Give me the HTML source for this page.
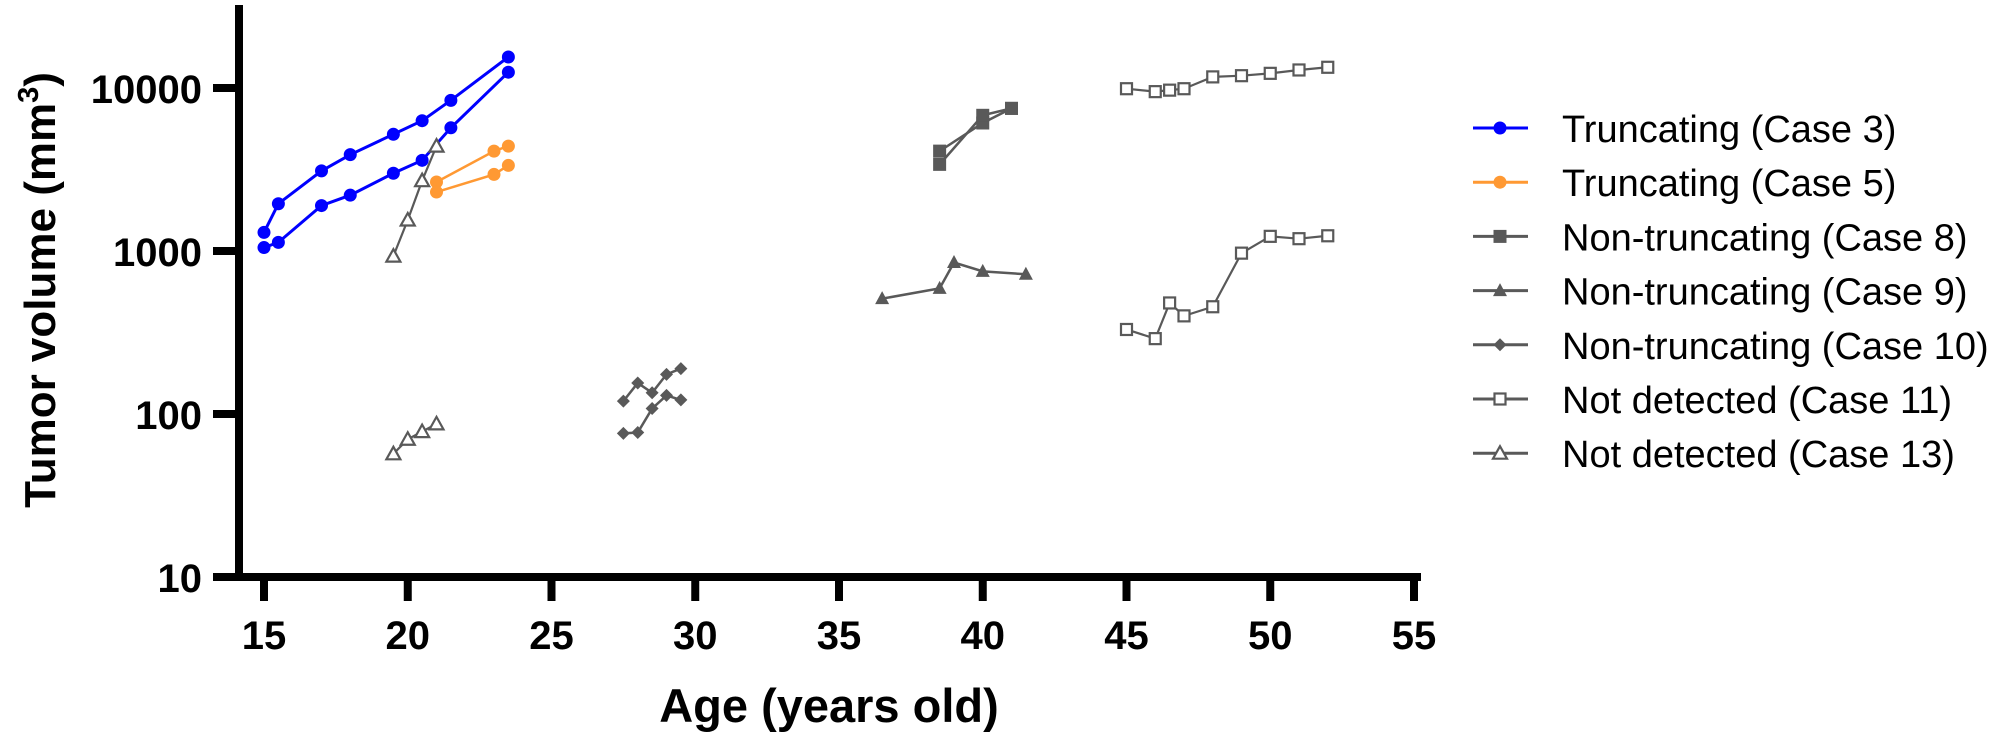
<!DOCTYPE html>
<html><head><meta charset="utf-8"><style>
html,body{margin:0;padding:0;background:#fff;}
svg{display:block;font-family:"Liberation Sans",Arial,sans-serif;}
</style></head><body>
<svg id="s" width="2003" height="738" viewBox="0 0 2003 738" xmlns="http://www.w3.org/2000/svg">
<g id="axes" stroke="#000" stroke-width="8" fill="none">
<line x1="239" y1="5" x2="239" y2="581"/>
<line x1="235" y1="577" x2="1421" y2="577"/>
</g>
<g id="ticks" stroke="#000" stroke-width="8"></g>
<g id="labels" font-weight="bold" font-size="40" fill="#000"></g>
<g id="data"></g>
<g id="legend" font-size="38" fill="#000"></g>
<text x="829" y="722" text-anchor="middle" font-weight="bold" font-size="47">Age (years old)</text>
<text transform="translate(55,290) rotate(-90)" text-anchor="middle" font-weight="bold" font-size="44">Tumor volume (mm<tspan dy="-17" font-size="29">3</tspan><tspan dy="17">)</tspan></text>
</svg>
<script>
var NS="http://www.w3.org/2000/svg";
function X(a){return 264+(a-15)*28.75;}
function Y(v){return 577-(Math.log10(v)-1)*163;}
function el(t,at,p){var e=document.createElementNS(NS,t);for(var k in at)e.setAttribute(k,at[k]);p.appendChild(e);return e;}
var T=document.getElementById('ticks'),L=document.getElementById('labels'),D=document.getElementById('data'),G=document.getElementById('legend');
[10,100,1000,10000].forEach(function(v){var y=Y(v);el('line',{x1:213,y1:y,x2:239,y2:y},T);var t=el('text',{x:202,y:y+15,'text-anchor':'end'},L);t.textContent=v;});
for(var a=15;a<=55;a+=5){var x=X(a);el('line',{x1:x,y1:577,x2:x,y2:601},T);var t=el('text',{x:x,y:649,'text-anchor':'middle'},L);t.textContent=a;}
function marker(type,x,y,c,p){
 if(type=='circ')el('circle',{cx:x,cy:y,r:6.5,fill:c},p);
 else if(type=='sq')el('rect',{x:x-6.5,y:y-6.5,width:13,height:13,fill:c},p);
 else if(type=='tri')el('polygon',{points:(x)+','+(y-7.5)+' '+(x-7)+','+(y+5.5)+' '+(x+7)+','+(y+5.5),fill:c},p);
 else if(type=='dia')el('polygon',{points:x+','+(y-6.5)+' '+(x+6.5)+','+y+' '+x+','+(y+6.5)+' '+(x-6.5)+','+y,fill:c},p);
 else if(type=='osq')el('rect',{x:x-5.5,y:y-5.5,width:11,height:11,fill:'#fff',stroke:c,'stroke-width':2.2},p);
 else if(type=='otri')el('polygon',{points:(x)+','+(y-7)+' '+(x-7)+','+(y+5.5)+' '+(x+7)+','+(y+5.5),fill:'#fff',stroke:c,'stroke-width':2.2},p);
}
function series(pts,type,c,w){
 el('polyline',{points:pts.map(function(p){return X(p[0])+','+Y(p[1]);}).join(' '),fill:'none',stroke:c,'stroke-width':w},D);
 pts.forEach(function(p){marker(type,X(p[0]),Y(p[1]),c,D);});
}
var B='#0000ff',O='#ff9933',Gr='#595959';
series([[15,1300],[15.5,1950],[17,3100],[18,3900],[19.5,5200],[20.5,6300],[21.5,8400],[23.5,15500]],'circ',B,3);
series([[15,1050],[15.5,1130],[17,1900],[18,2200],[19.5,3000],[20.5,3600],[21.5,5700],[23.5,12500]],'circ',B,3);
series([[21,2650],[23,4100],[23.5,4400]],'circ',O,2.5);
series([[21,2300],[23,2950],[23.5,3350]],'circ',O,2.5);
series([[19.5,930],[20,1550],[20.5,2700],[21,4400]],'otri',Gr,2.2);
series([[19.5,57],[20,70],[20.5,78],[21,87]],'otri',Gr,2.2);
series([[38.5,4100],[40,6100],[41,7500]],'sq',Gr,2.5);
series([[38.5,3400],[40,6800],[41,7500]],'sq',Gr,2.5);
series([[36.5,510],[38.5,590],[39,850],[40,750],[41.5,720]],'tri',Gr,2.5);
series([[27.5,120],[28,155],[28.5,135],[29,175],[29.5,190]],'dia',Gr,2.5);
series([[27.5,76],[28,77],[28.5,108],[29,130],[29.5,122]],'dia',Gr,2.5);
series([[45,9900],[46,9500],[46.5,9700],[47,9900],[48,11700],[49,11900],[50,12300],[51,12900],[52,13400]],'osq',Gr,2.2);
series([[45,330],[46,290],[46.5,480],[47,400],[48,455],[49,970],[50,1230],[51,1190],[52,1240]],'osq',Gr,2.2);
var leg=[['Truncating (Case 3)','circ',B],['Truncating (Case 5)','circ',O],['Non-truncating (Case 8)','sq',Gr],['Non-truncating (Case 9)','tri',Gr],['Non-truncating (Case 10)','dia',Gr],['Not detected (Case 11)','osq',Gr],['Not detected (Case 13)','otri',Gr]];
leg.forEach(function(l,i){var y=128+i*54.2;el('line',{x1:1473,y1:y,x2:1528,y2:y,stroke:l[2],'stroke-width':3},G);marker(l[1],1500,y,l[2],G);var t=el('text',{x:1562,y:y+14},G);t.textContent=l[0];});
</script>
</body></html>
